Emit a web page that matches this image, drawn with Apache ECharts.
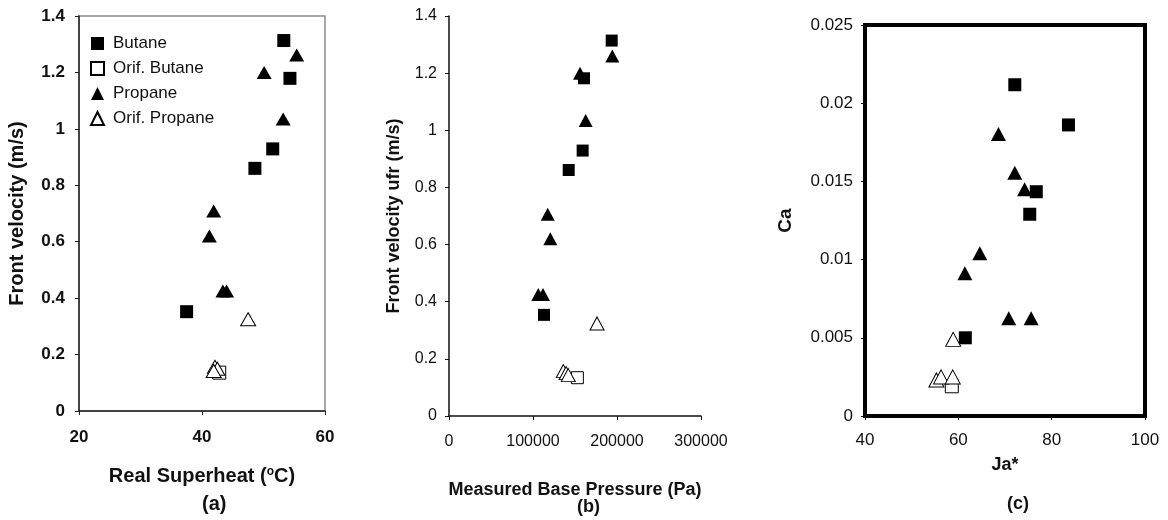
<!DOCTYPE html>
<html><head><meta charset="utf-8">
<script src="https://cdn.jsdelivr.net/npm/echarts@6/dist/echarts.min.js"></script>
<style>html,body{margin:0;padding:0;background:#fff}#c{width:1168px;height:520px}</style>
</head><body><div id="c"></div>
<script>
// Panel (a): Real Superheat (°C) vs Front velocity (m/s)
const aButane = [[37.5,0.352],[48.6,0.86],[51.5,0.929],[53.3,1.313],[54.3,1.179]];
const aOrifButane = [[42.8,0.136]];
const aPropane = [[55.4,1.262],[50.1,1.20],[53.2,1.035],[41.9,0.709],[41.2,0.62],[43.4,0.425],[44.0,0.425]];
const aOrifPropane = [[47.5,0.325],[42.1,0.157],[42.5,0.15],[41.9,0.142]];
// Panel (b): Measured Base Pressure (Pa) vs Front velocity ufr (m/s)
const bButane = [[193700,1.314],[160700,1.182],[159100,0.929],[142500,0.861],[113100,0.354]];
const bOrifButane = [[152800,0.134]];
const bPropane = [[194400,1.26],[156000,1.20],[162700,1.034],[117500,0.706],[120600,0.62],[106300,0.425],[111900,0.425]];
const bOrifPropane = [[176200,0.324],[136100,0.157],[139500,0.15],[142000,0.143]];
// Panel (c): Ja* vs Ca
const cButane = [[72.1,0.02118],[83.6,0.01861],[76.7,0.01434],[75.3,0.0129],[61.5,0.0050]];
const cOrifButane = [[58.6,0.0019]];
const cPropane = [[68.6,0.01803],[72.1,0.01556],[74.2,0.0145],[64.6,0.0104],[61.4,0.00912],[70.8,0.00625],[75.6,0.00625]];
const cOrifPropane = [[58.9,0.0049],[55.3,0.0023],[56.3,0.0025],[58.8,0.0025]];
// Legend names
const seriesNames = ['Butane','Orif. Butane','Propane','Orif. Propane'];

const FONT = "'Liberation Sans', Arial, sans-serif";
const chart = echarts.init(document.getElementById('c'), null, {renderer:'canvas'});

function styleFor(i){
  const filled = (i%2===0);
  return {
    symbol: i<2 ? 'rect' : 'triangle',
    itemStyle: filled ? {color:'#000', borderColor:'#000', borderWidth:0, opacity:1}
                      : {color:'#fff', borderColor:'#000', borderWidth:1, opacity:1}
  };
}
const panels = [
  [aButane,aOrifButane,aPropane,aOrifPropane],
  [bButane,bOrifButane,bPropane,bOrifPropane],
  [cButane,cOrifButane,cPropane,cOrifPropane]
];
const sqSize = [13,12,13];
const triSize = [[15,13],[14,13],[15,14]];
const series = [];
panels.forEach((p,gi)=>{
  p.forEach((d,si)=>{
    const st = styleFor(si);
    series.push({
      type:'scatter', name: seriesNames[si], xAxisIndex:gi, yAxisIndex:gi,
      data:d, symbol:st.symbol,
      symbolSize: si<2 ? sqSize[gi] : triSize[gi],
      itemStyle: st.itemStyle, z: si<2?3:4,
      emphasis:{disabled:true}, animation:false
    });
  });
});

const boldLbl = {fontFamily:FONT, fontSize:17, fontWeight:'bold', color:'#111'};
const normLbl = {fontFamily:FONT, fontSize:16, color:'#111'};
const plain = v => String(v);

chart.setOption({
  animation:false,
  textStyle:{fontFamily:FONT},
  legend:{
    show:true, orient:'vertical', left:85, top:30, itemGap:8,
    itemWidth:13, itemHeight:13,
    data: seriesNames,
    textStyle:{fontFamily:FONT, fontSize:17, color:'#111', padding:[0,0,0,4]},
    selectedMode:false
  },
  grid:[
    {left:79, top:16, width:246, height:395, show:true, borderColor:'#8a8a8a', borderWidth:1.5, backgroundColor:'transparent'},
    {left:449, top:16, width:252, height:400, show:false},
    {left:865, top:25, width:280, height:391, show:true, borderColor:'#000', borderWidth:4, backgroundColor:'transparent'}
  ],
  xAxis:[
    {gridIndex:0, type:'value', min:20, max:60, interval:20,
     name:'Real Superheat ({s|o}C)', nameLocation:'middle', nameGap:55,
     nameTextStyle:{fontFamily:FONT, fontSize:20, fontWeight:'bold', color:'#111', rich:{s:{fontSize:12, fontWeight:'bold', verticalAlign:'top', padding:[0,0,9,0], fontFamily:FONT}}},
     axisLine:{show:true, onZero:false, lineStyle:{color:'#222', width:1.5}},
     axisTick:{show:true, length:4, lineStyle:{color:'#222'}},
     axisLabel:{...boldLbl, margin:18, formatter:plain}, splitLine:{show:false}},
    {gridIndex:1, type:'value', min:0, max:300000, interval:100000,
     name:'Measured Base Pressure (Pa)', nameLocation:'middle', nameGap:65,
     nameTextStyle:{fontFamily:FONT, fontSize:18, fontWeight:'bold', color:'#111'},
     axisLine:{show:true, onZero:false, lineStyle:{color:'#111', width:1.5}},
     axisTick:{show:true, length:4, lineStyle:{color:'#111'}},
     axisLabel:{...normLbl, margin:18, formatter:plain}, splitLine:{show:false}},
    {gridIndex:2, type:'value', min:40, max:100, interval:20,
     name:'Ja*', nameLocation:'middle', nameGap:40,
     nameTextStyle:{fontFamily:FONT, fontSize:18, fontWeight:'bold', color:'#111'},
     axisLine:{show:false}, axisTick:{show:true, length:4, lineStyle:{color:'#111'}},
     axisLabel:{...normLbl, fontSize:17, margin:16, formatter:plain}, splitLine:{show:false}}
  ],
  yAxis:[
    {gridIndex:0, type:'value', min:0, max:1.4, interval:0.2,
     name:'Front velocity (m/s)', nameLocation:'middle', nameGap:52,
     nameTextStyle:{fontFamily:FONT, fontSize:20, fontWeight:'bold', color:'#111'},
     axisLine:{show:true, onZero:false, lineStyle:{color:'#222', width:1.5}},
     axisTick:{show:true, length:4, lineStyle:{color:'#222'}},
     axisLabel:{...boldLbl, margin:14, formatter:v=>String(+v.toFixed(1))}, splitLine:{show:false}},
    {gridIndex:1, type:'value', min:0, max:1.4, interval:0.2,
     name:'Front velocity ufr (m/s)', nameLocation:'middle', nameGap:46,
     nameTextStyle:{fontFamily:FONT, fontSize:18, fontWeight:'bold', color:'#111'},
     axisLine:{show:true, onZero:false, lineStyle:{color:'#111', width:1.5}},
     axisTick:{show:true, length:4, lineStyle:{color:'#111'}},
     axisLabel:{...normLbl, margin:12, formatter:v=>String(+v.toFixed(1))}, splitLine:{show:false}},
    {gridIndex:2, type:'value', min:0, max:0.025, interval:0.005,
     name:'Ca', nameLocation:'middle', nameGap:70,
     nameTextStyle:{fontFamily:FONT, fontSize:19, fontWeight:'bold', color:'#111'},
     axisLine:{show:false}, axisTick:{show:true, length:4, lineStyle:{color:'#111'}},
     axisLabel:{...normLbl, fontSize:17, margin:12, formatter:v=>String(+v.toFixed(3))}, splitLine:{show:false}}
  ],
  graphic:[
    {type:'text', left:202, top:494, style:{text:'(a)', font:"bold 20px "+FONT, fill:'#111', textAlign:'center'}},
    {type:'text', left:577, top:498, style:{text:'(b)', font:"bold 18px "+FONT, fill:'#111', textAlign:'center'}},
    {type:'text', left:1007, top:495, style:{text:'(c)', font:"bold 18px "+FONT, fill:'#111', textAlign:'center'}}
  ],
  series: series
});
</script></body></html>
